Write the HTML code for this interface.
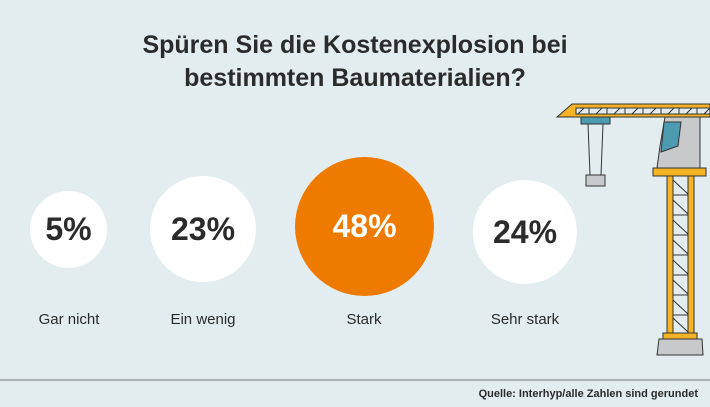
<!DOCTYPE html>
<html><head><meta charset="utf-8"><style>
body{margin:0;width:710px;height:407px;background:#e3edf0;position:relative;overflow:hidden;font-family:"Liberation Sans",sans-serif;color:#2b2b2b}
.t{position:absolute;left:0;width:710px;top:29px;text-align:center;font-weight:bold;font-size:25px;line-height:33px}
.c{position:absolute;border-radius:50%;background:#fff;display:flex;align-items:center;justify-content:center;font-size:32px;font-weight:bold}
.l{position:absolute;font-size:15px;width:140px;text-align:center;top:311px}
</style></head><body>
<div class="t">Spüren Sie die Kostenexplosion bei<br>bestimmten Baumaterialien?</div>
<div class="c" style="left:30px;top:191px;width:77px;height:77px">5%</div>
<div class="c" style="left:150px;top:176px;width:106px;height:106px">23%</div>
<div class="c" style="left:295px;top:157px;width:139px;height:139px;background:#ee7a00;color:#fff">48%</div>
<div class="c" style="left:473px;top:180px;width:104px;height:104px">24%</div>
<div class="l" style="left:-1px">Gar nicht</div>
<div class="l" style="left:133px">Ein wenig</div>
<div class="l" style="left:294px">Stark</div>
<div class="l" style="left:455px">Sehr stark</div>
<svg style="position:absolute;left:0;top:0" width="710" height="407">
<g stroke="#333" stroke-width="1">
<polygon points="572,104 710,104 710,117 557,117" fill="#f5b325"/>
<rect x="576" y="108" width="134" height="6" fill="#e3edf0"/>
<path d="M578,114 l6,-6 M596,114 l6,-6 M614,114 l6,-6 M632,114 l6,-6 M650,114 l6,-6 M668,114 l6,-6 M686,114 l6,-6 M704,114 l6,-6 M589,108v6 M607,108v6 M625,108v6 M643,108v6 M661,108v6 M679,108v6 M697,108v6" fill="none"/>
<rect x="581" y="117" width="29" height="7" fill="#4d9bb0"/>
<path d="M588,124 l2,51 M603,124 l-2,51" fill="none"/>
<rect x="586" y="175" width="19" height="11" fill="#c8c9cb"/>
<polygon points="665,117 700,117 700,168 657,168 660,146" fill="#c8c9cb"/>
<polygon points="664,122 681,122 678,146 661,152" fill="#4d9bb0"/>
<rect x="653" y="168" width="53" height="8" fill="#f5b325"/>
<rect x="667" y="176" width="6" height="157" fill="#f5b325"/>
<rect x="688" y="176" width="6" height="157" fill="#f5b325"/>
<path d="M673,195h15 M673,215h15 M673,235h15 M673,255h15 M673,275h15 M673,295h15 M673,315h15 M673,180l15,14 M673,200l15,14 M673,220l15,14 M673,240l15,14 M673,260l15,14 M673,280l15,14 M673,300l15,14 M673,318l15,14" fill="none"/>
<rect x="663" y="333" width="34" height="6" fill="#f5b325"/>
<polygon points="659,339 702,339 703,355 657,355" fill="#c8c9cb"/>
</g>
<line x1="0" y1="380" x2="710" y2="380" stroke="#9aa0a4" stroke-width="1.5"/>
</svg>
<div style="position:absolute;right:12px;top:388px;font-size:11px;font-weight:bold">Quelle: Interhyp/alle Zahlen sind gerundet</div>
</body></html>
